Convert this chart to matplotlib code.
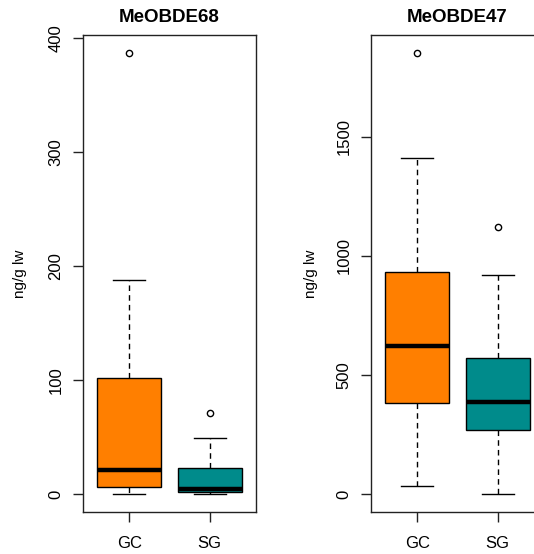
import matplotlib.pyplot as plt

plt.rcParams['font.family'] = ['Liberation Sans', 'DejaVu Sans']

groups = ['GC', 'SG']
colors = ['#FF7F00', '#008B8B']

# MeOBDE68: whisker low, Q1, median, Q3, whisker high
m68_low = [0, 0]
m68_q1 = [6.7, 2]
m68_med = [21.6, 5]
m68_q3 = [102, 23]
m68_high = [187.5, 49]
m68_fliers = [[387], [71]]

# MeOBDE47
m47_low = [33.5, 0]
m47_q1 = [384, 272]
m47_med = [623, 388]
m47_q3 = [931, 573]
m47_high = [1413, 922]
m47_fliers = [[1853], [1121]]


def make_stats(low, q1, med, q3, high, fliers):
    out = []
    for i in range(len(groups)):
        out.append(dict(label=groups[i], whislo=low[i], q1=q1[i], med=med[i],
                        q3=q3[i], whishi=high[i], fliers=fliers[i]))
    return out


def draw(ax, stats, title, ylim, yticks):
    bp = ax.bxp(stats, positions=[1, 2], widths=0.8, patch_artist=True,
                boxprops=dict(edgecolor='black', linewidth=1.0),
                medianprops=dict(color='black', linewidth=3.2, solid_capstyle='butt'),
                whiskerprops=dict(color='black', linewidth=1.0, linestyle=(0, (4, 3))),
                capprops=dict(color='black', linewidth=1.0),
                capwidths=0.4,
                flierprops=dict(marker='o', markersize=4.5, markerfacecolor='none',
                                markeredgecolor='black', markeredgewidth=1.0))
    for patch, c in zip(bp['boxes'], colors):
        patch.set_facecolor(c)
    ax.set_xlim(0.42, 2.58)
    ax.set_ylim(*ylim)
    ax.set_yticks(yticks)
    ax.set_yticklabels([str(t) for t in yticks], rotation=90, va='center', fontsize=12)
    ax.set_xticks([1, 2])
    ax.set_xticklabels(groups, fontsize=12)
    ax.tick_params(axis='both', length=7, width=1.0, color='#222222')
    ax.tick_params(axis='x', pad=10)
    ax.tick_params(axis='y', pad=7)
    for s in ax.spines.values():
        s.set_linewidth(1.0)
        s.set_color('#222222')
    ax.set_title(title, fontsize=13.5, fontweight='bold', pad=9)
    ax.set_ylabel('ng/g lw', fontsize=11)


W, H = 534, 554
fig = plt.figure(figsize=(W / 100, H / 100), dpi=100)
ax1 = fig.add_axes([83 / W, 42 / H, 173 / W, 477 / H])
ax2 = fig.add_axes([371 / W, 42 / H, 173 / W, 477 / H])

draw(ax1, make_stats(m68_low, m68_q1, m68_med, m68_q3, m68_high, m68_fliers),
     'MeOBDE68', (-15.5, 402.5), [0, 100, 200, 300, 400])
draw(ax2, make_stats(m47_low, m47_q1, m47_med, m47_q3, m47_high, m47_fliers),
     'MeOBDE47', (-74, 1927), [0, 500, 1000, 1500])

ax1.yaxis.set_label_coords(-56 / 173, 0.5)
ax2.yaxis.set_label_coords(-53 / 173, 0.5)

fig.savefig('out.png', dpi=100)
